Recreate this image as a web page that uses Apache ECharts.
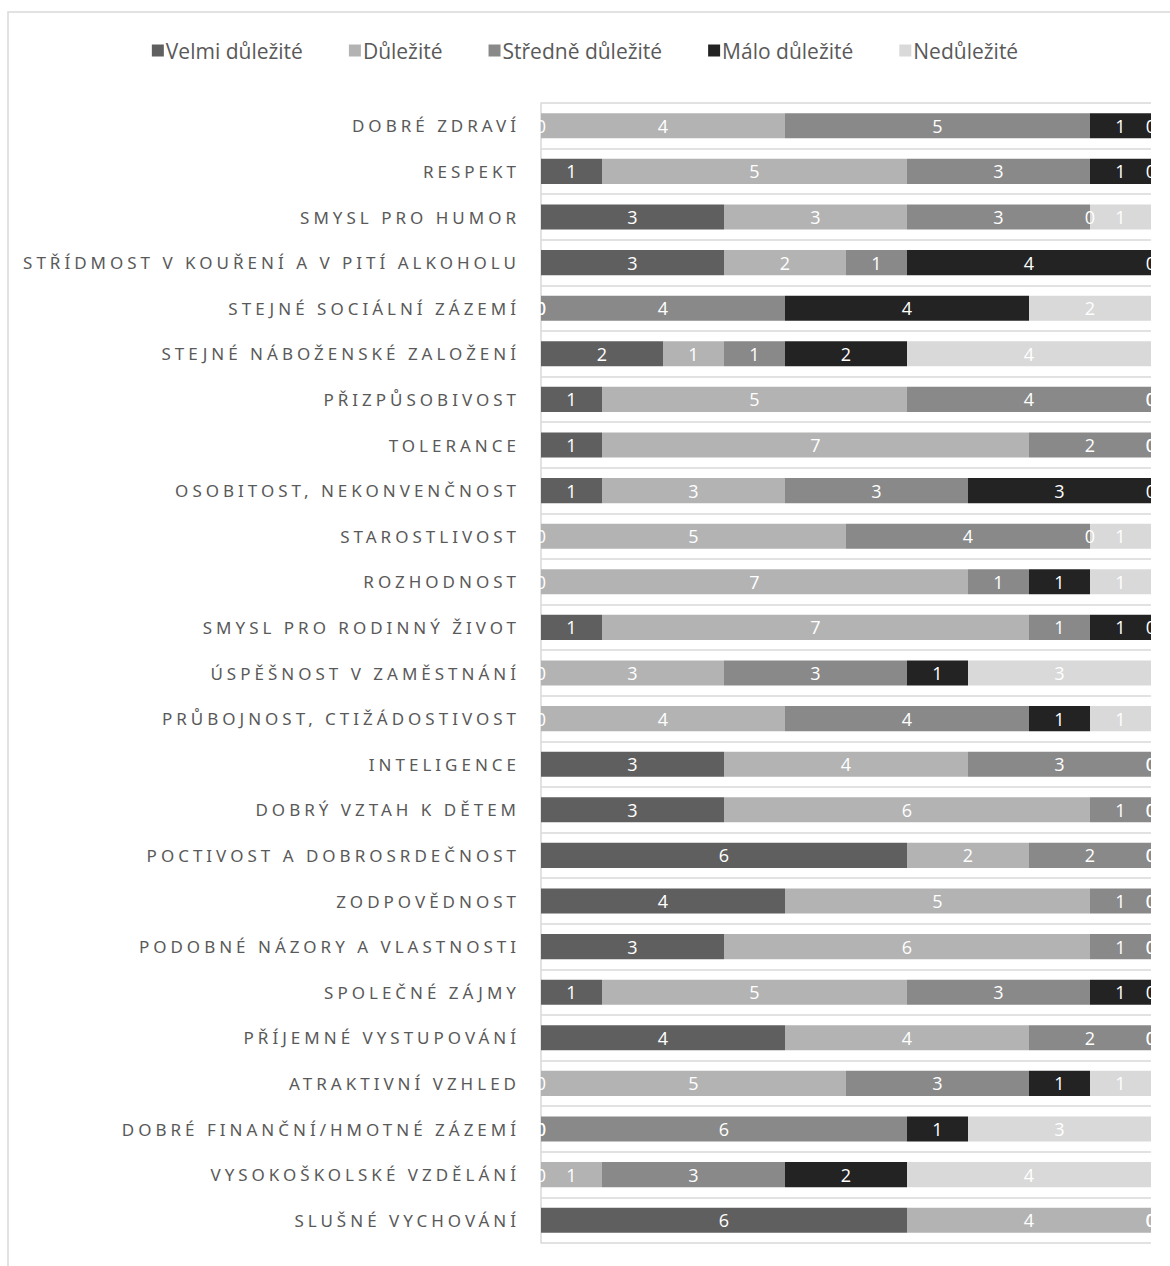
<!DOCTYPE html>
<html>
<head>
<meta charset="utf-8">
<script src="https://cdn.jsdelivr.net/npm/echarts@6/dist/echarts.min.js"></script>
<style>
  html, body { margin: 0; padding: 0; background: #fff; }
  #chart { width: 1170px; height: 1266px; }
  /* Excel-style spaced capitals on the category axis */
  #chart text[style*="Noto Sans"] { letter-spacing: 4px; }
</style>
</head>
<body>
<div id="chart"></div>
<script>
const categories = [
  'DOBRÉ ZDRAVÍ',
  'RESPEKT',
  'SMYSL PRO HUMOR',
  'STŘÍDMOST V KOUŘENÍ A V PITÍ ALKOHOLU',
  'STEJNÉ SOCIÁLNÍ ZÁZEMÍ',
  'STEJNÉ NÁBOŽENSKÉ ZALOŽENÍ',
  'PŘIZPŮSOBIVOST',
  'TOLERANCE',
  'OSOBITOST, NEKONVENČNOST',
  'STAROSTLIVOST',
  'ROZHODNOST',
  'SMYSL PRO RODINNÝ ŽIVOT',
  'ÚSPĚŠNOST V ZAMĚSTNÁNÍ',
  'PRŮBOJNOST, CTIŽÁDOSTIVOST',
  'INTELIGENCE',
  'DOBRÝ VZTAH K DĚTEM',
  'POCTIVOST A DOBROSRDEČNOST',
  'ZODPOVĚDNOST',
  'PODOBNÉ NÁZORY A VLASTNOSTI',
  'SPOLEČNÉ ZÁJMY',
  'PŘÍJEMNÉ VYSTUPOVÁNÍ',
  'ATRAKTIVNÍ VZHLED',
  'DOBRÉ FINANČNÍ/HMOTNÉ ZÁZEMÍ',
  'VYSOKOŠKOLSKÉ VZDĚLÁNÍ',
  'SLUŠNÉ VYCHOVÁNÍ'
]

const seriesNames = ['Velmi důležité', 'Důležité', 'Středně důležité', 'Málo důležité', 'Nedůležité']

const velmi      = [0, 1, 3, 3, 0, 2, 1, 1, 1, 0, 0, 1, 0, 0, 3, 3, 6, 4, 3, 1, 4, 0, 0, 0, 6]
const dulezite   = [4, 5, 3, 2, 0, 1, 5, 7, 3, 5, 7, 7, 3, 4, 4, 6, 2, 5, 6, 5, 4, 5, 0, 1, 4]
const stredne    = [5, 3, 3, 1, 4, 1, 4, 2, 3, 4, 1, 1, 3, 4, 3, 1, 2, 1, 1, 3, 2, 3, 6, 3, 0]
const malo       = [1, 1, 0, 4, 4, 2, 0, 0, 3, 0, 1, 1, 1, 1, 0, 0, 0, 0, 0, 1, 0, 1, 1, 2, 0]
const nedulezite = [0, 0, 1, 0, 2, 4, 0, 0, 0, 1, 1, 0, 3, 1, 0, 0, 0, 0, 0, 0, 0, 1, 3, 4, 0]

const values = [velmi, dulezite, stredne, malo, nedulezite]
const colors = ['#5f5f5f', '#b3b3b3', '#898989', '#232323', '#d9d9d9']

const chart = echarts.init(document.getElementById('chart'), null, { renderer: 'svg' })

const series = seriesNames.map((name, i) => ({
  name,
  type: 'bar',
  stack: 'total',
  barWidth: '55%',
  data: values[i],
  itemStyle: { color: colors[i] },
  label: {
    show: true,
    position: 'inside',
    color: '#fff',
    fontSize: 18,
    fontFamily: 'Open Sans'
  },
  emphasis: { disabled: true },
  animation: false
}))

chart.setOption({
  backgroundColor: '#fff',
  animation: false,
  graphic: [{
    type: 'rect',
    shape: { x: 8, y: 12, width: 1300, height: 1400 },
    style: { fill: 'none', stroke: '#d9d9d9', lineWidth: 1.5 },
    silent: true,
    z: -10
  }],
  legend: {
    top: 35,
    left: 'center',
    itemWidth: 12,
    itemHeight: 12,
    itemGap: 46,
    icon: 'rect',
    textStyle: { fontSize: 21, color: '#595959', fontFamily: 'Open Sans', padding: [0, 0, 0, -3] },
    data: seriesNames
  },
  grid: { left: 541, right: 19, top: 103, bottom: 23, containLabel: false },
  xAxis: {
    type: 'value',
    min: 0,
    max: 10,
    show: false
  },
  yAxis: {
    type: 'category',
    inverse: true,
    data: categories,
    axisLine: { show: true, lineStyle: { color: '#d9d9d9', width: 1.5 } },
    axisTick: { show: false },
    splitLine: { show: true, lineStyle: { color: '#d9d9d9', width: 1.5 } },
    axisLabel: {
      margin: 21,
      fontSize: 17,
      color: '#595959',
      fontFamily: 'Noto Sans'
    }
  },
  series
})

window.addEventListener('resize', () => chart.resize())
</script>
</body>
</html>
